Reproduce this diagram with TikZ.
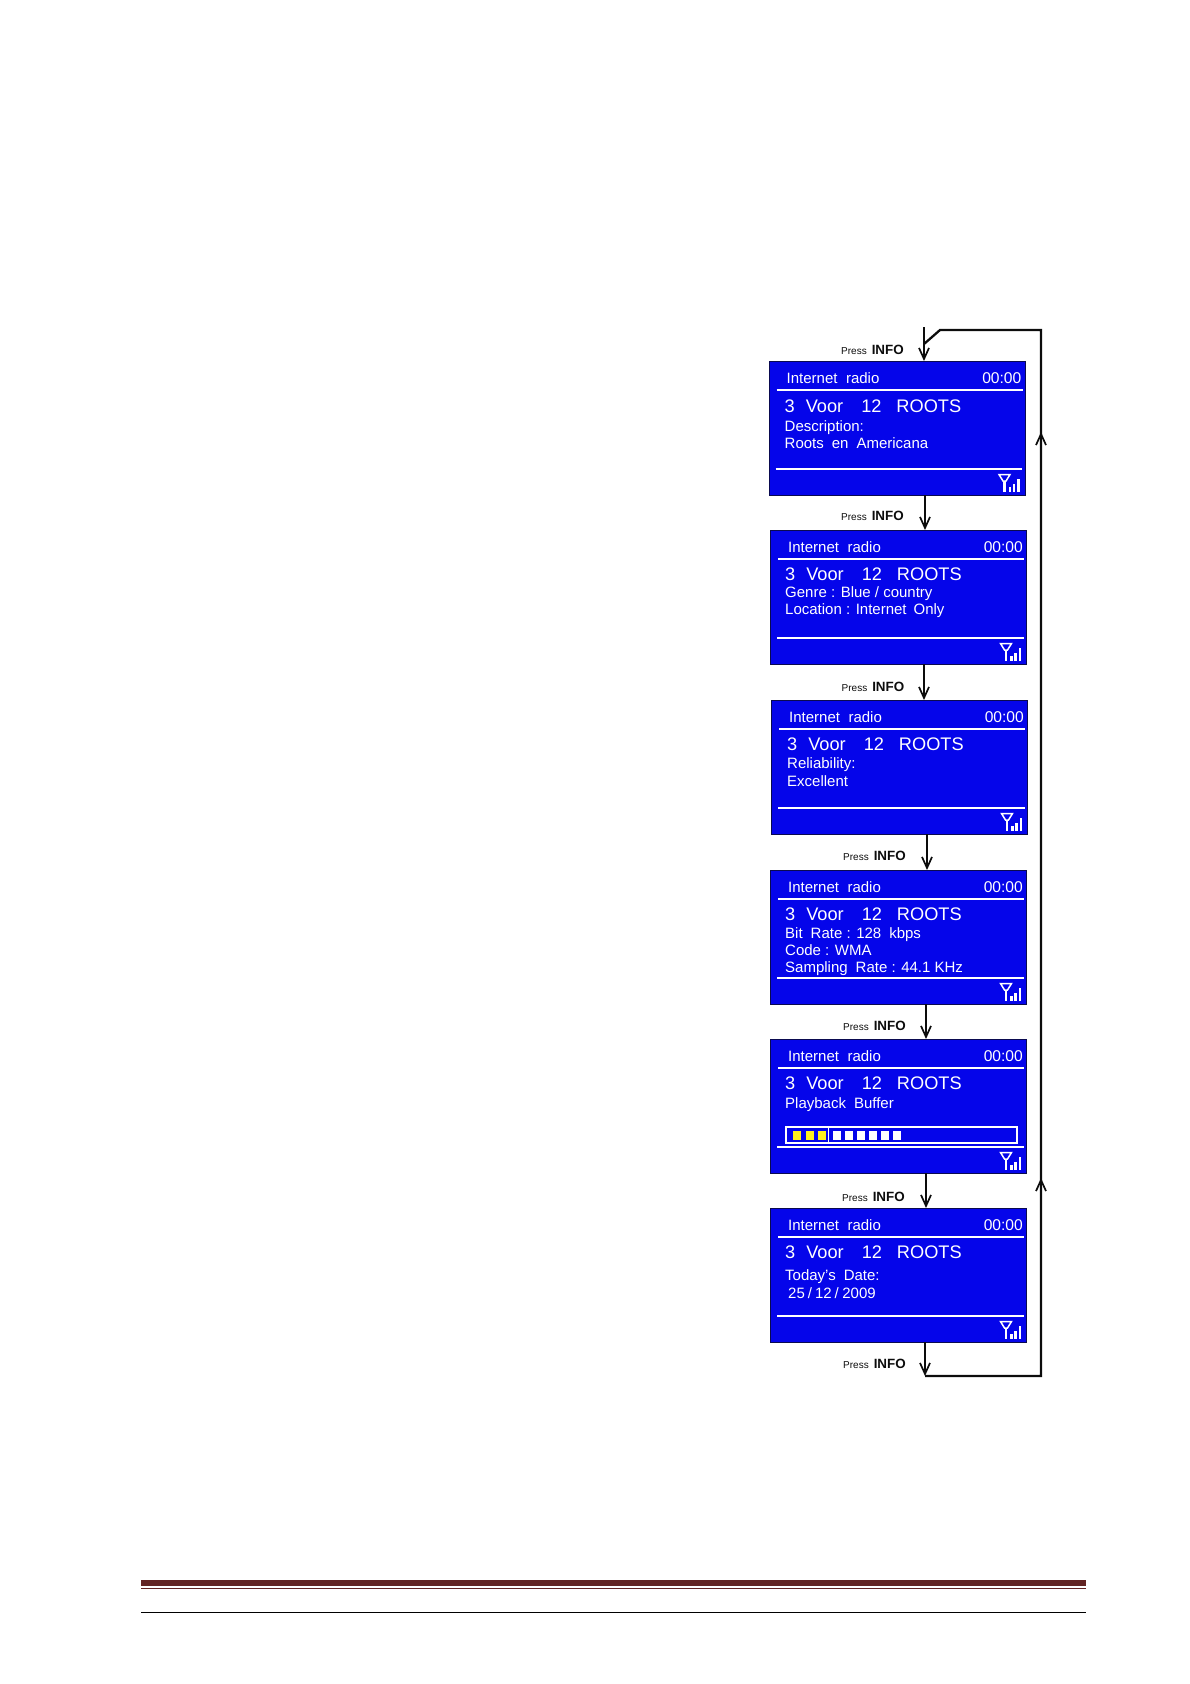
\documentclass[tikz,border=0pt]{standalone}
\usepackage{fontspec}
\setmainfont{Liberation Sans}
\usetikzlibrary{positioning, calc, arrows.meta}
\definecolor{LcdBlue}{HTML}{0505EA}
\definecolor{LcdEdge}{HTML}{0A0A50}
\definecolor{Ink}{HTML}{0C0C0C}
\definecolor{BarYellow}{HTML}{FFF01E}
\definecolor{FootRed}{HTML}{622423}
\tikzset{
    lcd/.style={rectangle, anchor=north west, fill=LcdBlue, draw=LcdEdge, line width=0.6pt, minimum width=256pt, minimum height=133.5pt, inner sep=0pt},
    lcdsmall/.style={anchor=west, inner sep=0pt, text=white, font=\fontsize{15}{17}\selectfont, text height=11pt, text depth=0pt},
    lcdclock/.style={lcdsmall, anchor=east, font=\fontsize{15.6}{17}\selectfont},
    lcdtitle/.style={lcdsmall, font=\fontsize{18.2}{20}\selectfont, text height=13pt},
    lcdrule/.style={white, line width=1.4pt},
    flow/.style={-{Straight Barb[length=11pt,width=10pt,line width=1.7pt]}, line width=2.3pt, color=Ink},
    loopline/.style={line width=2.3pt, color=Ink, line join=miter},
    presslabel/.style={anchor=west, inner sep=0pt, text=Ink, font=\fontsize{10}{12}\selectfont, text height=9pt, text depth=0pt},
}
\newcommand{\lcdframe}[3]{%
    \node[lcd] (#1) at (#2,#3) {};
    \node[lcdsmall] (#1radio) at ([shift={(18,16.5)}]#1.north west) {Internet\hspace{8.5pt}radio};
    \node[lcdclock] (#1clock) at ([shift={(253,17)}]#1.north west) {00:00};
    \begin{scope}[shift={(#1.north west)}]
        \draw[lcdrule] (8,29) -- (254,29);
        \draw[lcdrule] (7,108) -- (253.5,108);
        % Antenna
        \draw[white, line width=1.5pt] (230.5,113.5) -- (241.5,113.5) -- (237.5,120) -- (234.5,120) -- cycle;
        \draw[white, line width=2.2pt] (236,120) -- (236,130.5);
        \foreach \barx/\bartop in {241.5/126, 245.5/123, 250/118}
            \fill[white] (\barx-1.1,130.5) rectangle (\barx+1.1,\bartop);
    \end{scope}
}
\newcommand{\lcdname}{3\hspace{11pt}Voor\hspace{18pt}12\hspace{15pt}ROOTS}
\newcommand{\pressinfo}{Press\hspace{5pt}{\fontsize{13.4}{15}\selectfont\bfseries INFO}}
\begin{document}
\begin{tikzpicture}[x=1pt, y=-1pt]
    \useasboundingbox (0,0) rectangle (1190,1684);

    % Screens
    \lcdframe{sa}{768.5}{361}
    \node[lcdtitle] (satitle) at ([shift={(16,45)}]sa.north west) {\lcdname};
    \node[lcdsmall] (saone) at ([shift={(16,65)}]sa.north west) {Description:};
    \node[lcdsmall] (satwo) at ([shift={(16,82)}]sa.north west) {Roots\hspace{8pt}en\hspace{8pt}Americana};

    \lcdframe{sb}{770}{530}
    \node[lcdtitle] (sbtitle) at ([shift={(15,44)}]sb.north west) {\lcdname};
    \node[lcdsmall] (sbone) at ([shift={(15,62)}]sb.north west) {Genre : Blue / country};
    \node[lcdsmall] (sbtwo) at ([shift={(15,79)}]sb.north west) {Location : Internet\hspace{7pt}Only};

    \lcdframe{sc}{771}{700}
    \node[lcdtitle] (sctitle) at ([shift={(16,44)}]sc.north west) {\lcdname};
    \node[lcdsmall] (scone) at ([shift={(16,63)}]sc.north west) {Reliability:};
    \node[lcdsmall] (sctwo) at ([shift={(16,81)}]sc.north west) {Excellent};

    \lcdframe{sd}{770}{870}
    \node[lcdtitle] (sdtitle) at ([shift={(15,44)}]sd.north west) {\lcdname};
    \node[lcdsmall] (sdone) at ([shift={(15,62.5)}]sd.north west) {Bit\hspace{8pt}Rate : 128\hspace{8pt}kbps};
    \node[lcdsmall] (sdtwo) at ([shift={(15,80)}]sd.north west) {Code : WMA};
    \node[lcdsmall] (sdthree) at ([shift={(15,97)}]sd.north west) {Sampling\hspace{8pt}Rate : 44.1 KHz};

    \lcdframe{se}{770}{1039}
    \node[lcdtitle] (setitle) at ([shift={(15,44)}]se.north west) {\lcdname};
    \node[lcdsmall] (seone) at ([shift={(15,64)}]se.north west) {Playback\hspace{8pt}Buffer};
    % Buffer
    \begin{scope}[shift={(se.north west)}]
        \draw[white, line width=1.4pt] (16,88) rectangle (247,104);
        \draw[white, line width=1.2pt] (58.3,88) -- (58.3,104);
        \foreach \cellx in {23,35.5,47.5}
            \fill[BarYellow] (\cellx,91.5) rectangle (\cellx+8.3,100.5);
        \foreach \cellx in {63.3,74.7,86.7,98.7,110.7,122.7}
            \fill[white] (\cellx,91.5) rectangle (\cellx+8,100.5);
    \end{scope}

    \lcdframe{sf}{770}{1208}
    \node[lcdtitle] (sftitle) at ([shift={(15,44)}]sf.north west) {\lcdname};
    \node[lcdsmall] (sfone) at ([shift={(15,67)}]sf.north west) {Today's\hspace{8pt}Date:};
    \node[lcdsmall] (sftwo) at ([shift={(18,85)}]sf.north west) {25\hspace{3pt}/\hspace{3pt}12\hspace{3pt}/\hspace{3.5pt}2009};

    % Labels
    \foreach \labname/\labx/\laby in {la/841/350, lb/841/516, lc/841.5/686.5, ld/843/856, le/843/1026, lf/842/1196.5, lg/843/1363.5}
        \node[presslabel] (\labname) at (\labx,\laby) {\pressinfo};

    % Arrows
    \coordinate (entry) at (924,327);
    \coordinate (bottomturn) at (925,1376);
    \coordinate (cornerbr) at (1041,1376);
    \coordinate (cornertr) at (1041,330);
    \coordinate (cornertl) at (940,330);
    \coordinate (join) at (924,344);
    \coordinate (upa) at (1041,432);
    \coordinate (upb) at (1041,1178);
    \draw[flow] (entry) -- (entry |- sa.north);
    \foreach \from/\to/\linex in {sa/sb/925, sb/sc/924, sc/sd/927, sd/se/926, se/sf/926}
        \draw[flow] (\from.south -| \linex,0) -- (\to.north -| \linex,0);
    \draw[flow] (sf.south -| bottomturn) -- (bottomturn);
    \draw[loopline] (bottomturn) -- (cornerbr) -- (cornertr) -- (cornertl) -- (join);
    \draw[flow] (cornerbr) -- (upb);
    \draw[flow] (upb) -- (upa);

    % Footer
    \fill[FootRed] (141,1580) rectangle (1086,1586);
    \draw[FootRed, line width=1.2pt] (141,1588.5) -- (1086,1588.5);
    \draw[black, line width=1.3pt] (141,1612.3) -- (1086,1612.3);
\end{tikzpicture}
\end{document}
